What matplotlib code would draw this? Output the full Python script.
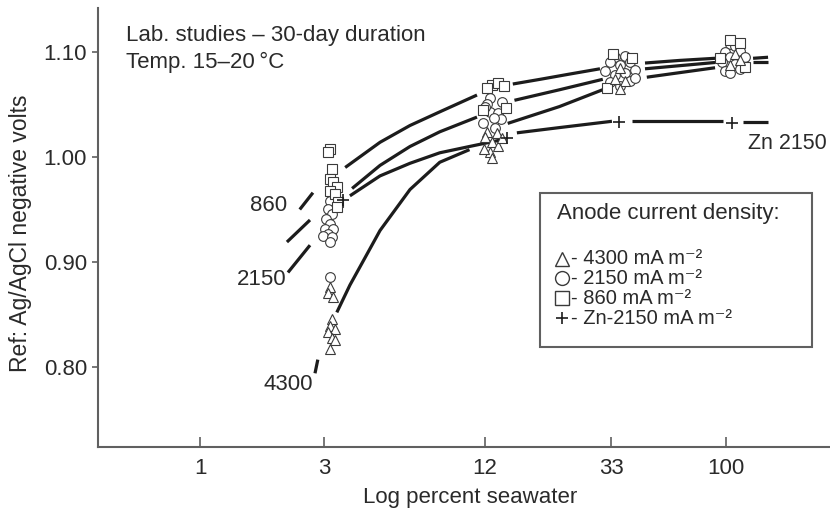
import numpy as np
import matplotlib.pyplot as plt
from matplotlib.patches import Rectangle

plt.rcParams['font.family'] = ['Liberation Sans', 'DejaVu Sans']

# ---- values ----
x_ticks = [1, 3, 12, 33, 100]
x_tick_labels = ['1', '3', '12', '33', '100']
y_ticks = [0.80, 0.90, 1.00, 1.10]

# triangles: 4300 mA m-2
tri_x = [3.16, 3.10, 3.24, 3.21, 3.16, 3.30, 3.10, 3.21, 3.30, 3.16,
         12.2, 13.2, 12.0, 12.7, 13.3, 12.5, 12.7, 13.8, 11.9,
         36.0, 34.3, 37.8, 36.0,
         109, 104, 114]
tri_y = [0.876, 0.870, 0.867, 0.846, 0.839, 0.836, 0.833, 0.828, 0.826, 0.817,
         1.024, 1.023, 1.019, 1.014, 1.010, 1.005, 0.999, 1.018, 1.008,
         1.085, 1.074, 1.072, 1.065,
         1.098, 1.088, 1.092]

# circles: 2150 mA m-2
circ_x = [3.16, 3.10, 3.21, 3.05, 3.16, 3.03, 3.24, 3.10, 2.97, 3.21, 3.16, 3.16,
          12.5, 12.5, 13.3, 11.8, 13.0, 12.2, 13.6, 12.0, 13.8, 12.9,
          34.3, 37.8, 32.8, 36.0, 39.7, 31.5, 41.6, 34.3, 37.8, 32.8, 39.7, 36.0, 41.6,
          104, 109, 99, 114, 104, 120, 96, 109, 114, 99, 104]
circ_y = [0.958, 0.950, 0.946, 0.941, 0.936, 0.931, 0.931, 0.927, 0.925, 0.924, 0.919, 0.886,
          1.056, 1.043, 1.042, 1.032, 1.028, 1.050, 1.036, 1.048, 1.052, 1.037,
          1.095, 1.096, 1.090, 1.088, 1.090, 1.082, 1.083, 1.078, 1.080, 1.071, 1.072, 1.068, 1.075,
          1.108, 1.106, 1.100, 1.101, 1.095, 1.095, 1.090, 1.089, 1.084, 1.082, 1.080]

# squares: 860 mA m-2
sq_x = [3.16, 3.10, 3.21, 3.16, 3.24, 3.35, 3.16, 3.30, 3.38, 3.35,
        12.7, 13.3, 12.2, 14.0, 11.8, 14.2,
        33.5, 40.5, 32.0,
        104, 114, 94.4, 120]
sq_y = [1.008, 1.005, 0.989, 0.979, 0.976, 0.971, 0.968, 0.965, 0.957, 0.952,
        1.069, 1.070, 1.066, 1.068, 1.045, 1.047,
        1.098, 1.094, 1.066,
        1.111, 1.109, 1.094, 1.086]

# plus: Zn-2150 mA m-2
zn_x = [3.54, 14.3, 35.6, 106]
zn_y = [0.959, 1.018, 1.033, 1.032]

# hand drawn trend lines, broken where they cross the marker clusters
curve_860 = [
    ([2.42, 2.72], [0.950, 0.966]),
    ([3.60, 4.86, 6.29, 8.13, 11.2], [0.990, 1.014, 1.030, 1.043, 1.059]),
    ([15.0, 18.7, 23.7, 30.2], [1.0695, 1.074, 1.079, 1.084]),
    ([45.8, 64.2, 90.0], [1.0895, 1.092, 1.094]),
    ([129.8, 150], [1.094, 1.095]),
]
curve_2150 = [
    ([2.18, 2.65], [0.890, 0.916]),
    ([3.82, 4.86, 6.29, 8.13, 11.2], [0.970, 0.992, 1.010, 1.024, 1.038]),
    ([15.2, 21.8, 30.9], [1.054, 1.064, 1.074]),
    ([45.8, 90.0], [1.084, 1.090]),
    ([129.8, 150], [1.090, 1.090]),
]
curve_4300 = [
    ([2.77, 2.84], [0.794, 0.807]),
    ([3.35, 3.75, 4.27, 4.86, 6.29, 8.13, 10.5], [0.852, 0.878, 0.904, 0.930, 0.969, 0.995, 1.007]),
    ([14.4, 21.8, 31.5], [1.032, 1.048, 1.065]),
    ([46.6, 90.0], [1.076, 1.085]),
]
curve_zn = [
    ([2.16, 2.65], [0.919, 0.940]),
    ([3.75, 4.86, 6.29, 8.13, 10.5, 13.5], [0.963, 0.982, 0.994, 1.004, 1.010, 1.016]),
    ([15.5, 21.8, 33.3], [1.023, 1.028, 1.034]),
    ([40.4, 97.6], [1.034, 1.034]),
    ([117.8, 150], [1.033, 1.033]),
]

legend_labels = ['- 4300 mA m\u207b\u00b2', '- 2150 mA m\u207b\u00b2',
                 '- 860 mA m\u207b\u00b2', '- Zn-2150 mA m\u207b\u00b2']
legend_markers = ['^', 'o', 's', '+']

# ---- x axis: the printed log axis is not spaced evenly, so map it piecewise ----
knot_log = np.log10(x_ticks)
knot_pos = np.array([0.0, 124.0, 285.0, 411.0, 526.0])
slope_lo = (knot_pos[1] - knot_pos[0]) / (knot_log[1] - knot_log[0])
slope_hi = (knot_pos[-1] - knot_pos[-2]) / (knot_log[-1] - knot_log[-2])


def fwd(x):
    lx = np.log10(np.clip(np.asarray(x, dtype=float), 1e-9, None))
    p = np.interp(lx, knot_log, knot_pos)
    p = np.where(lx < knot_log[0], knot_pos[0] + (lx - knot_log[0]) * slope_lo, p)
    p = np.where(lx > knot_log[-1], knot_pos[-1] + (lx - knot_log[-1]) * slope_hi, p)
    return p


def inv(p):
    p = np.asarray(p, dtype=float)
    lx = np.interp(p, knot_pos, knot_log)
    lx = np.where(p < knot_pos[0], knot_log[0] + (p - knot_pos[0]) / slope_lo, lx)
    lx = np.where(p > knot_pos[-1], knot_log[-1] + (p - knot_pos[-1]) / slope_hi, lx)
    return 10 ** lx


ink = '#2a2a2a'
axis_col = '#606060'

fig = plt.figure(figsize=(8.3, 5.12), dpi=100)
ax = fig.add_axes([98 / 830, 65 / 512, 732 / 830, 439 / 512])
ax.set_xscale('function', functions=(fwd, inv))
ax.set_xlim(float(inv(-102)), float(inv(630)))
ax.set_ylim(0.7238, 1.1419)

for curve in (curve_860, curve_2150, curve_4300, curve_zn):
    for xs, ys in curve:
        ax.plot(xs, ys, color='#1c1c1c', lw=2.3, solid_capstyle='butt')

mk = dict(linestyle='none', markerfacecolor='white', markeredgecolor='#3a3a3a',
          markeredgewidth=0.8, markersize=7)
ax.plot(circ_x, circ_y, marker='o', **mk)
ax.plot(sq_x, sq_y, marker='s', **mk)
ax.plot(tri_x, tri_y, marker='^', **mk)
ax.plot(zn_x, zn_y, marker='+', linestyle='none', color='#1c1c1c',
        markersize=9, markeredgewidth=1.2)

# curve labels
ax.text(1.83, 0.954, '860', fontsize=16, color=ink, ha='center', va='center')
ax.text(1.72, 0.883, '2150', fontsize=16, color=ink, ha='center', va='center')
ax.text(2.18, 0.783, '4300', fontsize=16, color=ink, ha='center', va='center')
ax.text(180, 1.013, 'Zn 2150', fontsize=15.5, color=ink, ha='center', va='center')

ax.text(0.038, 0.938, 'Lab. studies \u2013 30-day duration', transform=ax.transAxes,
        fontsize=16, color=ink, va='center')
ax.text(0.038, 0.877, 'Temp. 15\u201320\u2009\u00b0C', transform=ax.transAxes,
        fontsize=16, color=ink, va='center')

ax.set_xticks(x_ticks)
ax.set_xticklabels(x_tick_labels)
ax.xaxis.set_minor_locator(plt.NullLocator())
ax.set_yticks(y_ticks)
ax.set_yticklabels([f'{v:.2f}' for v in y_ticks])
ax.tick_params(axis='x', direction='in', length=7, width=1.2, color=axis_col,
               labelsize=16, labelcolor=ink, pad=8)
ax.tick_params(axis='y', direction='out', length=4, width=1.2, color=axis_col,
               labelsize=16, labelcolor=ink, pad=4)
for side in ('top', 'right'):
    ax.spines[side].set_visible(False)
for side in ('left', 'bottom'):
    ax.spines[side].set_color(axis_col)
    ax.spines[side].set_linewidth(1.5)

fig.text(470 / 830, 1 - 497 / 512, 'Log percent seawater', fontsize=16, color=ink,
         ha='center', va='center')
fig.text(21 / 830, 1 - 233 / 512, 'Ref: Ag/AgCl negative volts', fontsize=16.5, color=ink,
         ha='center', va='center', rotation=90)

# legend box drawn by hand to keep the tight line spacing of the original
fig.add_artist(Rectangle((540 / 830, 1 - 347 / 512), 272 / 830, 154 / 512,
                         transform=fig.transFigure, fill=False, edgecolor=axis_col, lw=1.5))
fig.text(557 / 830, 1 - 213 / 512, 'Anode current density:', fontsize=16, color=ink,
         va='center')
rows_y = [259, 278, 298, 318]
for lab, m, ry in zip(legend_labels, legend_markers, rows_y):
    yy = 1 - ry / 512
    if m == '+':
        fig.add_artist(plt.Line2D([562 / 830], [yy], marker='+', color='#1c1c1c',
                                  markersize=9, markeredgewidth=1.2, transform=fig.transFigure))
    else:
        fig.add_artist(plt.Line2D([562 / 830], [yy], marker=m, markerfacecolor='white',
                                  markeredgecolor='#3a3a3a', markeredgewidth=1.0,
                                  markersize=10, transform=fig.transFigure))
    fig.text(571 / 830, yy, lab, fontsize=14.5, color=ink, va='center')

fig.savefig('out.png', dpi=100)
